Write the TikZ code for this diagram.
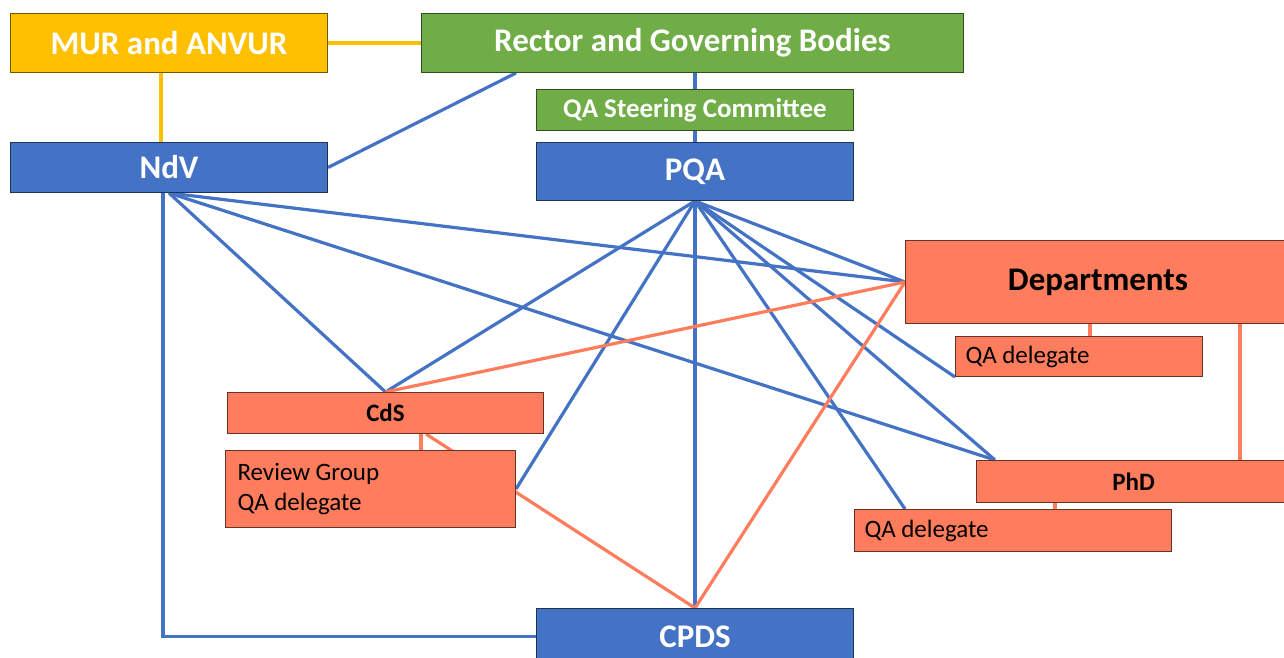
\documentclass[tikz,border=0pt]{standalone}
\usepackage{fontspec}
\setmainfont{Carlito}
\usetikzlibrary{backgrounds}
\definecolor{cblue}{HTML}{4472C4}
\definecolor{cgreen}{HTML}{70AD47}
\definecolor{cyellow}{HTML}{FFC000}
\definecolor{corange}{HTML}{FF7C5C}
\newcommand\tightsp{\spaceskip=5.5pt\relax}
\tikzset{
  box/.style={rectangle, anchor=north west, inner sep=0pt, line width=1pt},
  bluebox/.style={box, fill=cblue, draw=cblue!45!black, text=white, font=\fontsize{33}{36}\selectfont\bfseries},
  greenbox/.style={box, fill=cgreen, draw=cgreen!45!black, text=white, font=\fontsize{33}{36}\selectfont\bfseries},
  yellowbox/.style={box, fill=cyellow, draw=cyellow!45!black, text=white, font=\fontsize{33}{36}\selectfont\bfseries},
  orangebox/.style={box, fill=corange, draw=corange!40!black, text=black, font=\fontsize{25}{30}\selectfont},
  tighttext/.style={execute at begin node=\tightsp},
  bl/.style={cblue, line width=3.2pt},
  yl/.style={cyellow, line width=3.2pt},
  ol/.style={corange, line width=3.2pt}
}
\begin{document}
\begin{tikzpicture}[x=1pt,y=-1pt]
\useasboundingbox (0,0) rectangle (1284,658);
% boxes
\node[yellowbox, minimum width=317, minimum height=59] (mur) at (10,13) {MUR and ANVUR};
\node[greenbox, minimum width=542, minimum height=59] (rector) at (421,13) {Rector and Governing Bodies};
\node[greenbox, minimum width=317, minimum height=41, font=\fontsize{27}{30}\selectfont\bfseries] (qasc) at (536,89) {QA Steering Committee};
\node[bluebox, minimum width=317, minimum height=50] (ndv) at (10,142) {NdV};
\node[bluebox, minimum width=317, minimum height=58] (pqa) at (536,142) {PQA};
\node[orangebox, minimum width=385, minimum height=83, font=\fontsize{33}{36}\selectfont\bfseries] (dept) at (905,240) {Departments};
\node[orangebox, tighttext, text width=227, inner xsep=10pt, minimum height=40, align=left] (qad1) at (955,336) {QA delegate};
\node[orangebox, minimum width=316, minimum height=41, font=\fontsize{25}{30}\selectfont\bfseries] (cds) at (227,392) {CdS};
\node[orangebox, tighttext, text width=266, inner xsep=12pt, minimum height=77, align=left] (rg) at (225,450) {Review Group\\QA delegate};
\node[orangebox, minimum width=314, minimum height=42, font=\fontsize{25}{30}\selectfont\bfseries] (phd) at (976,460) {PhD};
\node[orangebox, tighttext, text width=297, inner xsep=10pt, minimum height=42, align=left] (qad2) at (854,509) {QA delegate};
\node[bluebox, minimum width=317, minimum height=56] (cpds) at (536,608) {CPDS};
% connectors
\begin{pgfonlayer}{background}
\draw[yl] (mur.east) -- (rector.west);
\draw[yl] ([xshift=-8pt]mur.south) -- ([xshift=-8pt]ndv.north);
\draw[bl] (ndv.east) -- ([xshift=95pt]rector.south west);
\draw[bl] (qasc.north) -- (qasc.north |- rector.south);
\draw[bl] (qasc.south) -- (pqa.north);
% NdV fan
\draw[bl] (ndv.south) -- (cds.north);
\draw[bl] (ndv.south) -- (dept.west);
\draw[bl] (ndv.south) -- ([xshift=19pt]phd.north west);
\draw[bl] ([xshift=-6pt]ndv.south) |- (cpds.west);
% PQA fan
\draw[bl] (pqa.south) -- (cds.north);
\draw[bl] (pqa.south) -- (rg.east);
\draw[bl] (pqa.south) -- (cpds.north);
\draw[bl] (pqa.south) -- ([xshift=51pt]qad2.north west);
\draw[bl] (pqa.south) -- ([xshift=19pt]phd.north west);
\draw[bl] (pqa.south) -- (qad1.south west);
\draw[bl] (pqa.south) -- (dept.west);
% orange
\draw[ol] (dept.west) -- (cds.north);
\draw[ol] (dept.west) -- (cpds.north);
\draw[ol] ([xshift=199pt]cds.south west) -- (cpds.north);
\draw[ol] ([xshift=194pt]cds.south west) -- ([xshift=194pt]cds.south west |- rg.north);
\draw[ol] ([xshift=185pt]dept.south west) -- ([xshift=185pt]dept.south west |- qad1.north);
\draw[ol] ([xshift=335pt]dept.south west) -- ([xshift=335pt]dept.south west |- phd.north);
\draw[ol] ([xshift=79pt]phd.south west) -- ([xshift=79pt]phd.south west |- qad2.north);
\end{pgfonlayer}
\end{tikzpicture}
\end{document}
